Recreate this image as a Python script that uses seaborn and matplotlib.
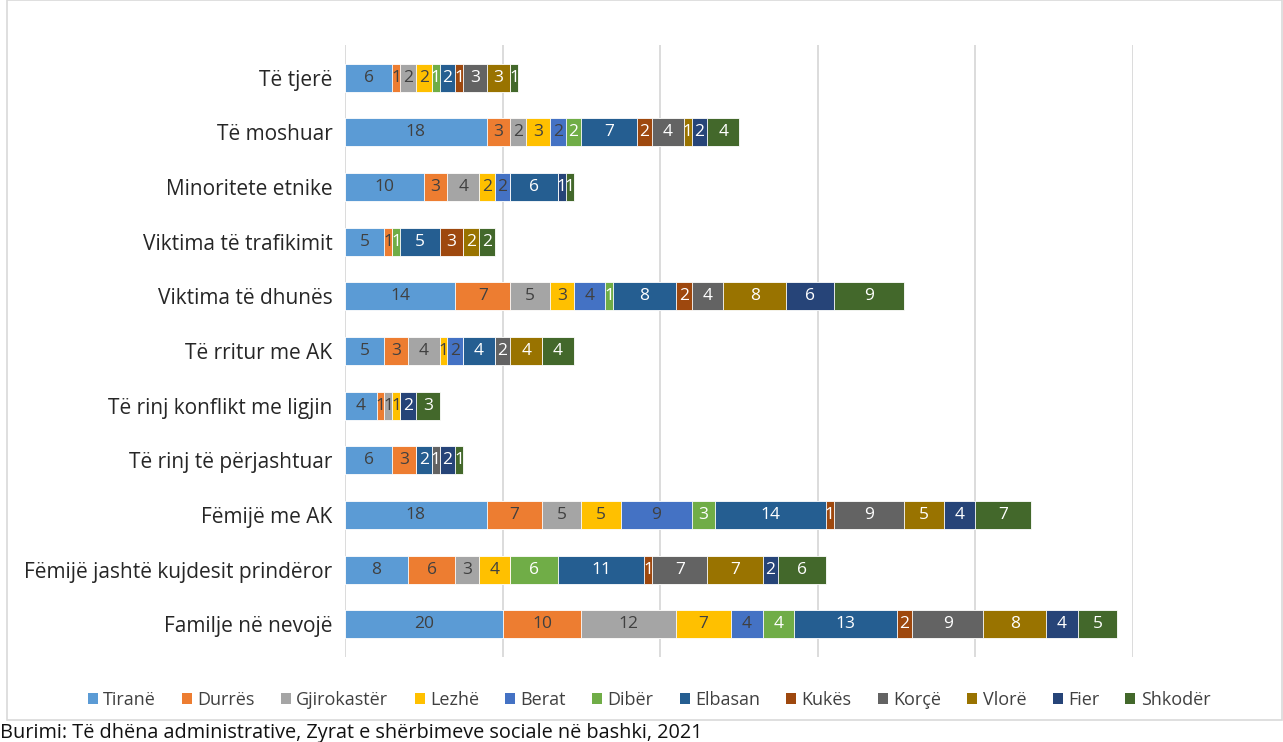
"Përfituesit sipas kategorisë dhe bashkisë - grafik me shtylla të grumbulluara"

import numpy as np
import pandas as pd
import matplotlib
matplotlib.use('Agg')
import matplotlib.pyplot as plt
from matplotlib import font_manager as fm
from matplotlib.patches import Patch, Rectangle
import seaborn as sns

# Kategoritë (nga lart poshtë)
categories = ["Të tjerë", "Të moshuar", "Minoritete etnike", "Viktima të trafikimit",
              "Viktima të dhunës", "Të rritur me AK", "Të rinj konflikt me ligjin",
              "Të rinj të përjashtuar", "Fëmijë me AK", "Fëmijë jashtë kujdesit prindëror",
              "Familje në nevojë"]

# Vlerat për çdo bashki
tirane      = [6, 18, 10, 5, 14, 5, 4, 6, 18, 8, 20]
durres      = [1, 3, 3, 1, 7, 3, 1, 3, 7, 6, 10]
gjirokaster = [2, 2, 4, 0, 5, 4, 1, 0, 5, 3, 12]
lezhe       = [2, 3, 2, 0, 3, 1, 1, 0, 5, 4, 7]
berat       = [0, 2, 2, 0, 4, 2, 0, 0, 9, 0, 4]
diber       = [1, 2, 0, 1, 1, 0, 0, 0, 3, 6, 4]
elbasan     = [2, 7, 6, 5, 8, 4, 0, 2, 14, 11, 13]
kukes       = [1, 2, 0, 3, 2, 0, 0, 0, 1, 1, 2]
korce       = [3, 4, 0, 0, 4, 2, 0, 1, 9, 7, 9]
vlore       = [3, 1, 0, 2, 8, 4, 0, 0, 5, 7, 8]
fier        = [0, 2, 1, 0, 6, 0, 2, 2, 4, 2, 4]
shkoder     = [1, 4, 1, 2, 9, 4, 3, 1, 7, 6, 5]

series_names = ["Tiranë", "Durrës", "Gjirokastër", "Lezhë", "Berat", "Dibër",
                "Elbasan", "Kukës", "Korçë", "Vlorë", "Fier", "Shkodër"]
series_vals = [tirane, durres, gjirokaster, lezhe, berat, diber,
               elbasan, kukes, korce, vlore, fier, shkoder]

colors = ['#5B9BD5', '#ED7D31', '#A5A5A5', '#FFC000', '#4472C4', '#70AD47',
          '#255E91', '#9E480E', '#636363', '#997300', '#264478', '#43682B']
label_colors = ['#404040'] * 5 + ['white'] * 7

df = pd.DataFrame(np.array(series_vals).T, index=categories, columns=series_names)
cum = df.cumsum(axis=1)

sns.set_style('white')
plt.rcParams['font.family'] = ['Open Sans', 'DejaVu Sans']

# shkronja e ngushtë për numrat, nëse ekziston
try:
    fm.findfont(fm.FontProperties(family='Liberation Sans Narrow'), fallback_to_default=False)
    num_font = 'Liberation Sans Narrow'
    num_size = 14
except ValueError:
    num_font = 'Open Sans'
    num_size = 12.5

fig = plt.figure(figsize=(12.83, 7.42), dpi=100)
ax = fig.add_axes([345 / 1283, 1 - 657 / 742, 788 / 1283, 612 / 742])

# Shtyllat e grumbulluara: vizatohen shumat kumulative nga e fundit te e para
for i in reversed(range(len(series_names))):
    sns.barplot(x=cum.iloc[:, i].values, y=categories, color=colors[i], orient='h',
                width=0.51, saturation=1, edgecolor='white', linewidth=0.6, ax=ax, zorder=3)

# Etiketat e vlerave
for i, name in enumerate(series_names):
    for j, cat in enumerate(categories):
        v = df.loc[cat, name]
        if v == 0:
            continue
        xc = cum.loc[cat, name] - v / 2
        ax.text(xc, j, str(v), ha='center', va='center', fontsize=num_size,
                family=num_font, color=label_colors[i], zorder=5)

ax.set_xlim(0, 100)
ax.set_ylim(10.6, -0.6)
ax.set_xticks(range(0, 101, 20))
ax.set_xticklabels([])
ax.xaxis.grid(True, color='#D9D9D9', linewidth=1.3, zorder=0)
ax.set_axisbelow(True)
ax.set_xlabel('')
ax.set_ylabel('')
ax.tick_params(axis='both', length=0)
ax.tick_params(axis='y', pad=9, labelsize=15, labelcolor='#262626')
for s in ax.spines.values():
    s.set_visible(False)

# Legjenda
handles = [Patch(facecolor=c, edgecolor='none') for c in colors]
fig.legend(handles, series_names, loc='center', bbox_to_anchor=(649 / 1283, 1 - 700 / 742),
           ncol=12, frameon=False, fontsize=13, handlelength=0.55, handleheight=0.55,
           handletextpad=0.3, columnspacing=1.45, labelcolor='#404040')

# Korniza e grafikut
fig.patches.append(Rectangle((7 / 1283, 22 / 742), 1 - 8 / 1283, 1 - 22 / 742,
                             transform=fig.transFigure, fill=False,
                             edgecolor='#D9D9D9', linewidth=1.2))

fig.text(0.0, 1 - 733 / 742, "Burimi: Të dhëna administrative, Zyrat e shërbimeve sociale në bashki, 2021",
         ha='left', va='center', fontsize=14.3, color='#111111')

fig.savefig('out.png', dpi=100)
